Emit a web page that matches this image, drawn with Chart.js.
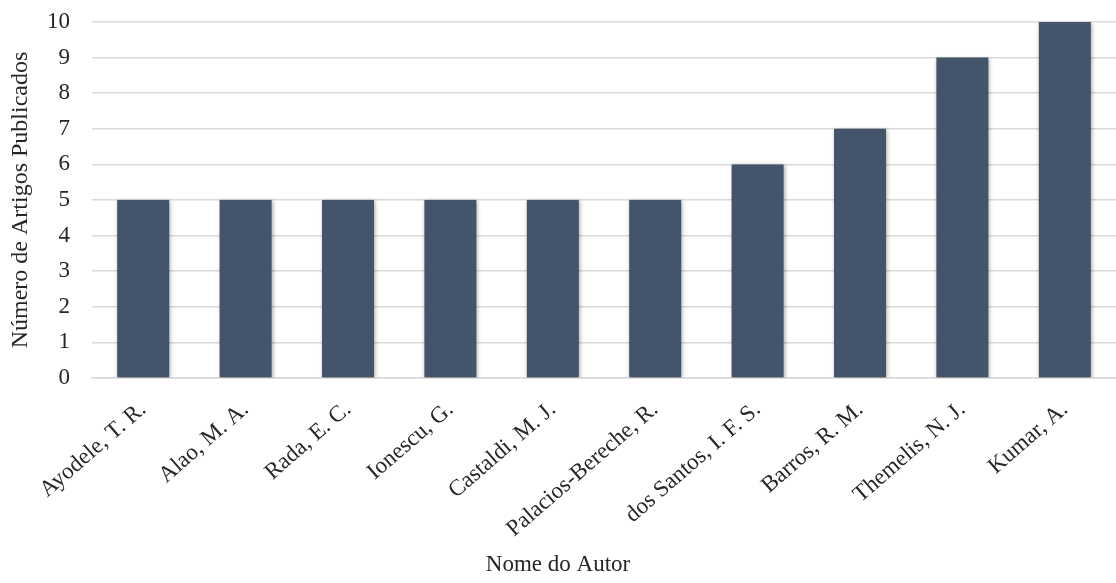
<!DOCTYPE html>
<html>
<head>
<meta charset="utf-8">
<script src="https://cdn.jsdelivr.net/npm/chart.js@4"></script>
<style>
  html, body { margin: 0; padding: 0; background: #ffffff; }
  #wrap { width: 1116px; height: 583px; position: relative; }
</style>
</head>
<body>
<div id="wrap"><canvas id="chart"></canvas></div>
<script>
// Authors and number of published articles
const authors = [
  "Ayodele, T. R.", "Alao, M. A.", "Rada, E. C.", "Ionescu, G.", "Castaldi, M. J.",
  "Palacios-Bereche, R.", "dos Santos, I. F. S.", "Barros, R. M.", "Themelis, N. J.", "Kumar, A."
];
const articles = [5, 5, 5, 5, 5, 5, 6, 7, 9, 10];
const yTicks = [0, 1, 2, 3, 4, 5, 6, 7, 8, 9, 10];

const xTitle = "Nome do Autor";
const yTitle = "Número de Artigos Publicados";

const FONT = "'Liberation Serif', 'Times New Roman', serif";
const TEXT = "#262626";

// Soft drop shadow behind the bars
const barShadow = {
  id: 'barShadow',
  beforeDatasetsDraw(chart) {
    const ctx = chart.ctx;
    ctx.save();
    ctx.shadowColor = 'rgba(0,0,0,0.35)';
    ctx.shadowBlur = 4;
    ctx.shadowOffsetX = 1;
    ctx.shadowOffsetY = 1;
  },
  afterDatasetsDraw(chart) {
    chart.ctx.restore();
  }
};

new Chart(document.getElementById('chart'), {
  type: 'bar',
  data: {
    labels: authors,
    datasets: [{
      data: articles,
      backgroundColor: '#44546a',
      borderWidth: 0,
      categoryPercentage: 1,
      barPercentage: 0.508
    }]
  },
  plugins: [barShadow],
  options: {
    responsive: true,
    maintainAspectRatio: false,
    animation: false,
    layout: { padding: { top: 22, right: 0, bottom: 0, left: 0 } },
    plugins: {
      legend: { display: false },
      tooltip: { enabled: false },
      title: {
        display: true,
        position: 'bottom',
        text: xTitle,
        color: TEXT,
        font: { family: FONT, size: 23, weight: 'normal' },
        padding: { top: 0, bottom: 4 }
      }
    },
    scales: {
      x: {
        afterFit(scale) { scale.height = 583 - 378 - 31.6; },
        grid: { display: false, drawTicks: false },
        border: { display: true, color: '#d9d9d9', width: 1.5 },
        ticks: {
          color: TEXT,
          font: { family: FONT, size: 23 },
          maxRotation: 41,
          minRotation: 41,
          padding: 18,
          autoSkip: false
        }
      },
      y: {
        min: 0,
        max: 10,
        afterFit(scale) {
          scale.width = 92;
          scale.paddingTop = 0;
          scale.paddingBottom = 0;
        },
        afterBuildTicks(axis) { axis.ticks = yTicks.map(v => ({ value: v })); },
        grid: { color: '#d9d9d9', lineWidth: 1.5, drawTicks: false },
        border: { display: false },
        ticks: {
          color: TEXT,
          font: { family: FONT, size: 23 },
          padding: 22
        },
        title: {
          display: true,
          text: yTitle,
          color: TEXT,
          font: { family: FONT, size: 24 },
          padding: { top: 6, bottom: 0 }
        }
      }
    }
  }
});
</script>
</body>
</html>
